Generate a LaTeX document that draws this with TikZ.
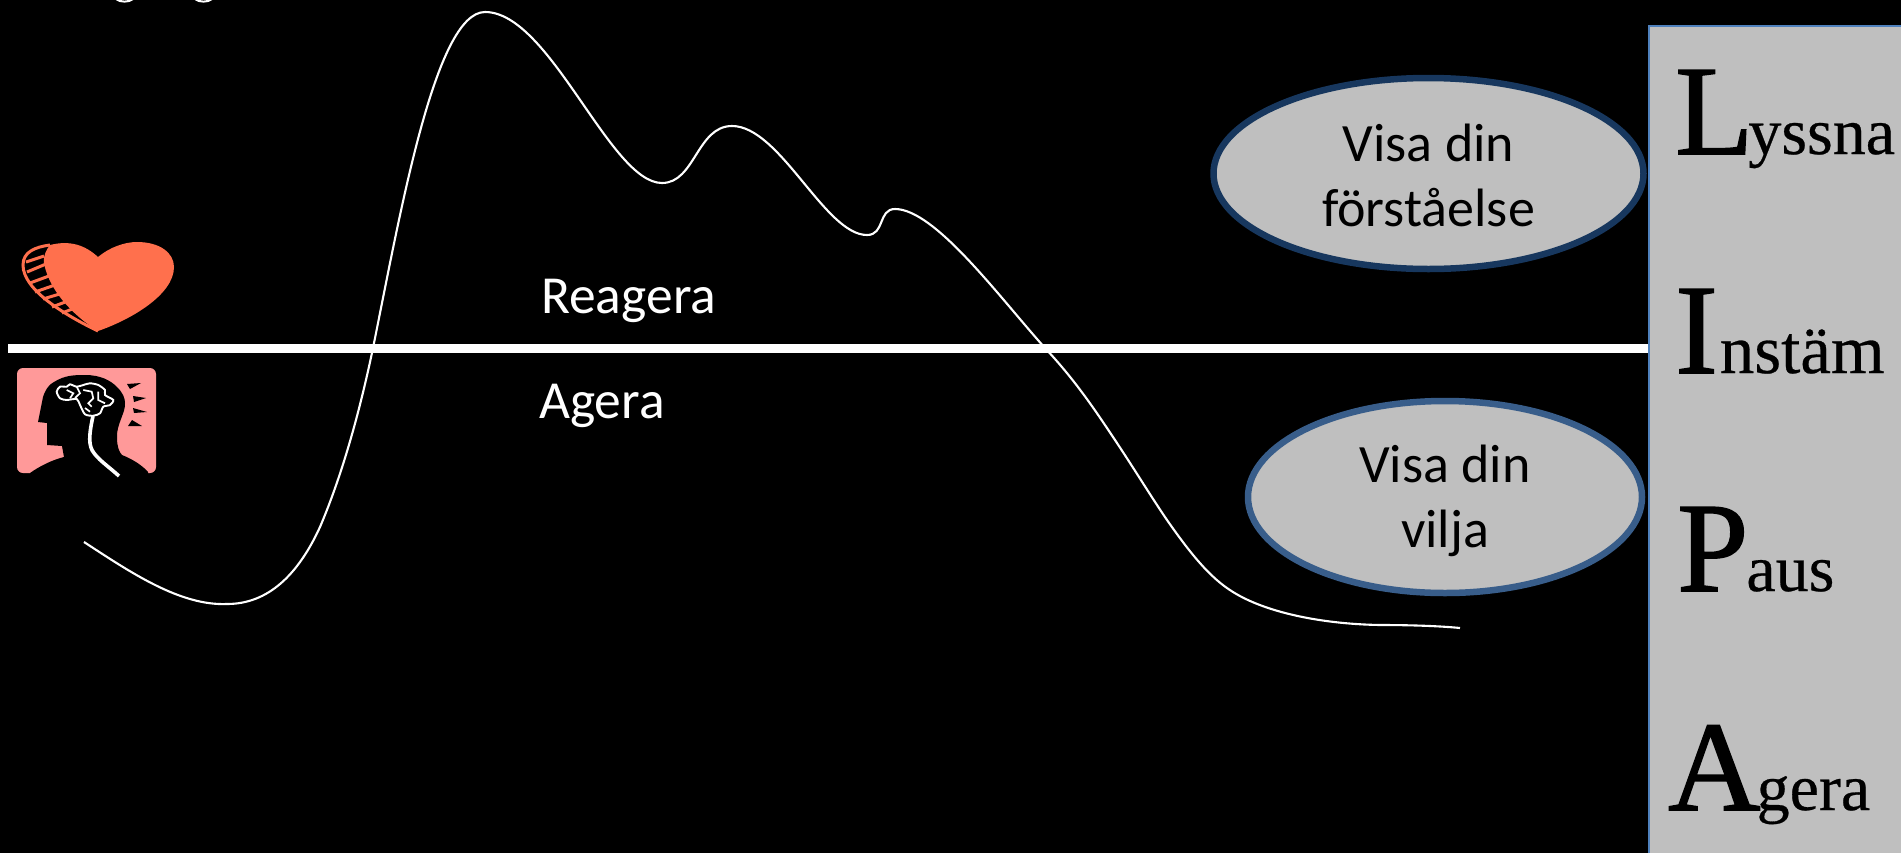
\documentclass[tikz,border=0pt]{standalone}
\usepackage{fontspec}
\usetikzlibrary{shapes.geometric}
\newfontfamily\bodyfont{Carlito}
\newfontfamily\panelfont[FakeBold=0.4]{Liberation Serif}
\newfontfamily\capfont[FakeBold=1.2]{Liberation Serif}
\definecolor{panelgrey}{HTML}{BFBFBF}
\definecolor{panelblue}{HTML}{4F81BD}
\definecolor{darkring}{HTML}{17375E}
\definecolor{midring}{HTML}{385D8A}
\definecolor{heartred}{HTML}{FF704D}
\definecolor{headpink}{HTML}{FF9999}
\tikzset{
	oval/.style={ellipse, fill=panelgrey, line width=6.5pt, inner sep=0pt, align=center, text=black,
		font=\bodyfont\fontsize{54}{65}\selectfont},
	sidetext/.style={anchor=base west, inner sep=0pt, text=white, font=\bodyfont\fontsize{53.5}{60}\selectfont},
	lipa/.style={anchor=base west, inner sep=0pt, text=black, font=\panelfont\fontsize{66}{70}\selectfont}
}
\newcommand{\bigletter}[1]{{\capfont\fontsize{128}{130}\selectfont #1}}
\newcommand{\lowered}[2]{\raisebox{-#1pt}[\height][\depth]{#2}}
\begin{document}
\begin{tikzpicture}[x=1pt, y=-1pt]
	\useasboundingbox (0,0) rectangle (1901,852);
	\fill [black] (-3,-3) rectangle (1904,855);
	\draw [white, line width=2pt] (116,-1) .. controls (120,2.5) and (129,2.5) .. (133,-1);
	\draw [white, line width=2pt] (195,-1) .. controls (199,2.5) and (208,2.5) .. (212,-1);
	\draw [white, line width=2.1pt] (84,542) .. controls (130,572) and (180,606) .. (227,604)
		.. controls (268,604) and (298,575) .. (320,527)
		.. controls (340,480) and (358,420) .. (373,348)
		.. controls (400,215) and (435,12) .. (485,12)
		.. controls (550,12) and (610,183) .. (662,183)
		.. controls (695,183) and (697,126) .. (732,126)
		.. controls (780,126) and (825,235) .. (867,235)
		.. controls (885,235) and (878,209) .. (895,209)
		.. controls (935,209) and (1000,298) .. (1045,348)
		.. controls (1075,380) and (1095,410) .. (1113,437)
		.. controls (1135,470) and (1150,495) .. (1167,520)
		.. controls (1190,553) and (1210,578) .. (1233,592)
		.. controls (1265,612) and (1320,624) .. (1380,625)
		.. controls (1410,625) and (1440,626) .. (1460,628);
	\draw [white, line width=9pt] (8,348) -- (1650,348);
	% heart
	\fill [heartred] (98,257) .. controls (110,247) and (125,242) .. (137,242)
		.. controls (160,242) and (174,253) .. (174,267)
		.. controls (174,295) and (130,320) .. (98,331)
		.. controls (80,320) and (50,295) .. (44,263)
		.. controls (43,255) and (47,249) .. (50,245)
		.. controls (70,240) and (85,245) .. (98,257);
	\draw [heartred, line width=3pt] (50,245) .. controls (35,247) and (23,252) .. (23,265)
		.. controls (23,290) and (65,315) .. (98,331);
	\foreach \xa/\ya/\xb/\yb in {26/262/44/256, 27/272/46/264, 30/283/49/276, 35/292/55/285, 43/299/63/293, 52/307/68/301, 62/313/75/308}
		\draw [heartred, line width=3pt] (\xa,\ya) -- (\xb,\yb);
	% head
	\fill [headpink, rounded corners=6pt] (17,368) rectangle (156,473);
	\fill [black] (64,457) -- (62,446) -- (47,445) -- (47,423) -- (38,422) -- (43,397)
		.. controls (46,388) and (50,384) .. (54,382)
		.. controls (65,375) and (75,375) .. (85,375)
		.. controls (100,375) and (110,380) .. (117,387)
		.. controls (123,393) and (125,398) .. (125,403)
		.. controls (126,412) and (116,425) .. (117,438)
		.. controls (117,446) and (119,452) .. (122,455)
		.. controls (132,459) and (142,465) .. (148,472)
		-- (148,480) -- (30,480) -- (30,473)
		.. controls (40,466) and (52,460) .. (64,457);
	\fill [black] (127,384) -- (141,383) -- (130,389) -- cycle;
	\fill [black] (133,396) -- (146,398) -- (134,402) -- cycle;
	\fill [black] (133,408) -- (147,412) -- (134,413) -- cycle;
	\fill [black] (128,426) -- (132,420) -- (142,426) -- cycle;
	\draw [white, line width=3.6pt] (93,416) .. controls (90,430) and (88,442) .. (92,450)
		.. controls (97,459) and (108,466) .. (119,476);
	\draw [white, line width=1.9pt] plot [smooth cycle, tension=0.45] coordinates {(56.7,391.7) (60,386.7) (66.7,386.7) (70,384.3) (76.7,386.7) (83.3,385) (90,383.3) (98.3,385) (105,390) (105,395) (113.3,400) (110,405) (103.3,406.7) (100,413.3) (93.3,415.7) (85,414.3) (80,405) (76.7,399) (66.7,400) (60,398.3)};
	\draw [white, line width=1.7pt] (66.7,390) -- (73.3,393.3) -- (70,398.3);
	\draw [white, line width=1.7pt] (76.7,386.7) -- (80,393.3) -- (75,398);
	\draw [white, line width=1.7pt] (83.3,390) -- (91.7,391.7) -- (93.3,398.3) -- (88.3,403.3) -- (91.7,406.7);
	\draw [white, line width=1.7pt] (98.3,391.7) -- (98.3,400) -- (105,403.3);
	\draw [white, line width=1.7pt] (85,408) -- (90,411.7);
	% texts
	\node [sidetext] (reagera) at (541,313) {Reagera};
	\node [sidetext] (agera) at (539,418) {Agera};
	\node [oval, draw=darkring, minimum width=430pt, minimum height=191pt] (forstaelse) at (1428.5,173.5) {\lowered{2}{Visa din}\\\lowered{2}{förståelse}};
	\node [oval, draw=midring, minimum width=394pt, minimum height=192pt] (vilja) at (1445,497) {\lowered{4}{Visa din}\\\lowered{4}{vilja}};
	% side panel
	\filldraw [fill=panelgrey, draw=panelblue, line width=2pt] (1649,26) rectangle (1910,860);
	\node [lipa] (lyssna) at (1675,154) {\bigletter{L}\kern-5pt yssna};
	\node [lipa, font=\panelfont\fontsize{69}{70}\selectfont] (instam) at (1675,373) {\bigletter{I}\kern2pt nstäm};
	\node [lipa] (paus) at (1677,591) {\bigletter{P}\kern-2pt aus};
	\node [lipa] (ageraletter) at (1668,810) {\bigletter{A}\kern-4pt gera};
\end{tikzpicture}
\end{document}
